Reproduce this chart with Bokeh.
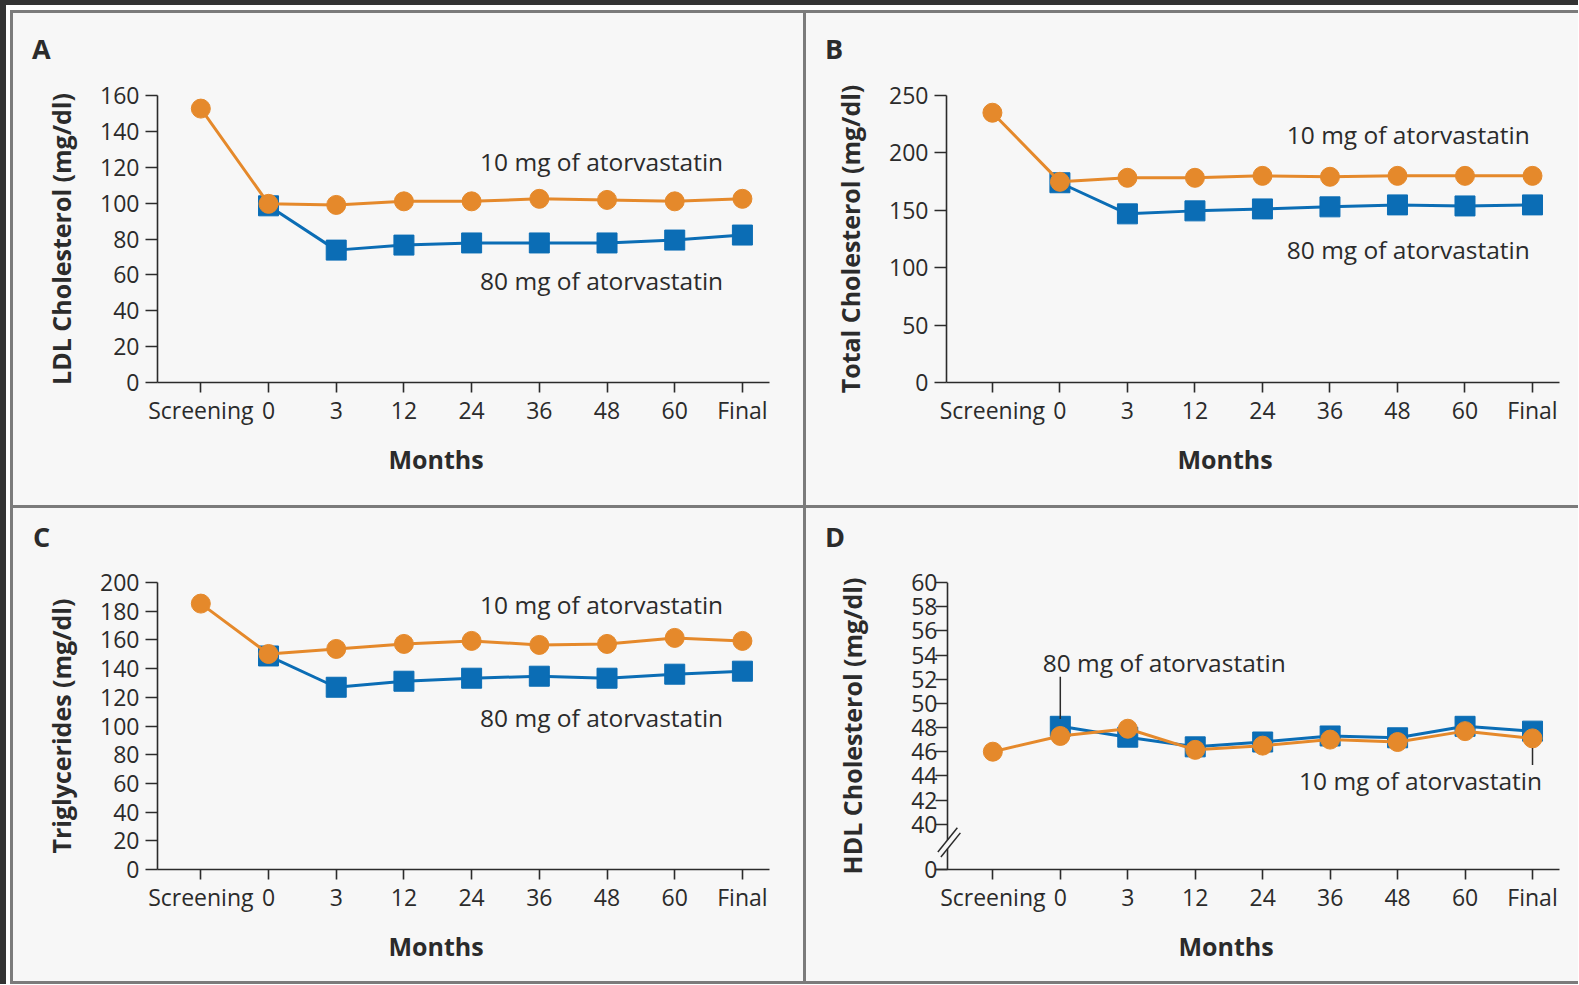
from bokeh.plotting import figure
from bokeh.models import Label, FixedTicker, Title, Div
from bokeh.layouts import row, column
from bokeh.embed import file_html
from bokeh.resources import INLINE

# ---------------- data ----------------
categories = ["Screening", "0", "3", "12", "24", "36", "48", "60", "Final"]

ldl_10 = [152.7, 99.6, 99.0, 101.0, 101.0, 102.4, 101.8, 101.0, 102.4]
ldl_80 = [98.5, 73.8, 76.6, 77.8, 77.8, 77.8, 79.4, 82.2]

tc_10 = [235.0, 174.8, 178.3, 178.3, 180.0, 179.2, 180.0, 180.0, 180.0]
tc_80 = [174.0, 146.9, 149.5, 151.2, 153.0, 154.7, 153.8, 154.7]

tg_10 = [185.3, 150.2, 153.7, 157.2, 159.3, 156.5, 157.2, 161.4, 159.3]
tg_80 = [148.8, 127.0, 131.2, 133.3, 134.7, 133.3, 136.1, 138.2]

hdl_10 = [46.0, 47.3, 47.9, 46.15, 46.5, 47.0, 46.8, 47.7, 47.1]
hdl_80 = [48.1, 47.2, 46.4, 46.8, 47.3, 47.15, 48.1, 47.7]

ldl_ticks = [0, 20, 40, 60, 80, 100, 120, 140, 160]
tc_ticks = [0, 50, 100, 150, 200, 250]
tg_ticks = [0, 20, 40, 60, 80, 100, 120, 140, 160, 180, 200]
hdl_zero = 36.25          # plotted position of the "0" tick below the axis break
hdl_ticks = [hdl_zero, 40, 42, 44, 46, 48, 50, 52, 54, 56, 58, 60]

label_10 = "10 mg of atorvastatin"
label_80 = "80 mg of atorvastatin"

# ---------------- style ----------------
ORANGE = "#E5892B"
BLUE = "#0B6DB5"
BG = "#F7F7F7"
INK = "#2B2B2B"
FONT = "Open Sans"
FH = 287            # plot-frame height
DIV_TOP = 60        # height of the strip holding the panel letter (upper row)
DIV_BOT = 50        # (lower row)

x10 = list(range(len(categories)))
x80 = list(range(1, len(categories)))


def panel(ylabel, v10, v80, y0, y1, yticks, w, h, left, top, fw, xs,
          months_off, notes, yover=None, inner_ticks=False):
    p = figure(width=w, height=h, x_range=(xs, 8.4), y_range=(y0, y1),
               output_backend="svg", toolbar_location=None,
               min_border_left=left, min_border_top=top, min_border_bottom=h - top - FH,
               min_border_right=w - left - fw)
    p.background_fill_alpha = 0
    p.border_fill_alpha = 0
    p.styles = {"background-color": BG}
    p.outline_line_color = None
    p.xgrid.grid_line_color = None
    p.ygrid.grid_line_color = None

    xa = p.xaxis[0]
    xa.ticker = FixedTicker(ticks=x10)
    xa.major_label_overrides = {i: c for i, c in enumerate(categories)}
    ya = p.yaxis[0]
    ya.ticker = FixedTicker(ticks=yticks)
    if yover:
        ya.major_label_overrides = yover
    ya.axis_label = ylabel
    for ax in (xa, ya):
        ax.axis_line_color = INK
        ax.axis_line_width = 1.6
        ax.major_tick_line_color = INK
        ax.major_tick_line_width = 1.6
        ax.major_tick_in = 0
        ax.minor_tick_line_color = None
        ax.major_label_text_font = FONT
        ax.major_label_text_font_size = "23px"
        ax.major_label_text_color = INK
    xa.major_tick_out = 10
    xa.major_label_standoff = 1
    ya.major_tick_out = 12
    ya.major_label_standoff = 6
    ya.axis_label_standoff = 19
    if inner_ticks:
        # the visible axis line is drawn 12 px inside the frame (room for the break marks)
        ya.axis_line_color = None
        ya.major_tick_out = 0
        ya.major_tick_in = 12
        ya.major_label_standoff = -2
        ya.axis_label_standoff = 39
    ya.axis_label_text_font = FONT
    ya.axis_label_text_font_style = "bold"
    ya.axis_label_text_color = INK
    ya.axis_label_text_font_size = "25px"

    p.add_layout(Title(text="Months", align="left", offset=months_off, standoff=22,
                       text_font=FONT, text_font_style="bold", text_font_size="25px",
                       text_color=INK), "below")

    p.line(x80, v80, color=BLUE, line_width=3)
    p.scatter(x80, v80, marker="square", size=20, color=BLUE)
    p.line(x10, v10, color=ORANGE, line_width=3)
    p.scatter(x10, v10, marker="circle", size=19, color=ORANGE)

    for txt, tx, ty in notes:
        p.add_layout(Label(x=tx, y=ty, text=txt, text_font=FONT, text_font_size="24.5px",
                           text_color=INK, text_align="center", text_baseline="middle"))
    return p


def letter_strip(letter, w, h, left, top):
    html = ('<div style="font-family:\'Open Sans\';font-weight:bold;font-size:27px;'
            'line-height:27px;color:%s;margin:%dpx 0 0 %dpx;">%s</div>' % (INK, top, left, letter))
    return Div(text=html, width=w, height=h, margin=0,
               styles={"background-color": BG, "overflow": "hidden"})


TOP_H, BOT_H = 492, 473
A_W, B_W = 790, 772

pA = panel("LDL Cholesterol (mg/dl)", ldl_10, ldl_80, 0, 160, ldl_ticks,
           A_W, TOP_H - DIV_TOP, 144, 82 - DIV_TOP, 612, -0.64, 231,
           [(label_10, 5.92, 123.2), (label_80, 5.92, 57.0)])
pB = panel("Total Cholesterol (mg/dl)", tc_10, tc_80, 0, 250, tc_ticks,
           B_W, TOP_H - DIV_TOP, 140, 82 - DIV_TOP, 613, -0.68, 231,
           [(label_10, 6.16, 216.0), (label_80, 6.16, 116.0)])
pC = panel("Triglycerides (mg/dl)", tg_10, tg_80, 0, 200, tg_ticks,
           A_W, BOT_H - DIV_BOT, 144, 74 - DIV_BOT, 612, -0.64, 231,
           [(label_10, 5.92, 185.0), (label_80, 5.92, 105.9)])
D_XS = -0.85
D_AXIS = D_XS + 12 / (624 / (8.4 - D_XS))
pD = panel("HDL Cholesterol (mg/dl)", hdl_10, hdl_80, hdl_zero, 60, hdl_ticks,
           B_W, BOT_H - DIV_BOT, 129, 74 - DIV_BOT, 624, D_XS, 243,
           [(label_80, 2.54, 53.4), (label_10, 6.34, 43.6)],
           yover={hdl_zero: "0"}, inner_ticks=True)

# broken y axis of panel D: axis line in two pieces plus the two break marks
pD.segment(x0=[D_AXIS, D_AXIS], y0=[hdl_zero, 38.7], x1=[D_AXIS, D_AXIS], y1=[37.96, 60],
           color=INK, line_width=1.6)
pD.segment(x0=[-0.815, -0.770], y0=[37.70, 37.28], x1=[-0.526, -0.481], y1=[39.70, 39.28],
           color=INK, line_width=1.5)
# leader lines in panel D
pD.segment(x0=[1, 8], y0=[52.2, 46.3], x1=[1, 8], y1=[48.7, 44.9], color=INK, line_width=1.5)

colA = column(letter_strip("A", A_W, DIV_TOP, 19, 22), pA, spacing=0)
colB = column(letter_strip("B", B_W, DIV_TOP, 19, 22), pB, spacing=0)
colC = column(letter_strip("C", A_W, DIV_BOT, 20, 15), pC, spacing=0)
colD = column(letter_strip("D", B_W, DIV_BOT, 19, 15), pD, spacing=0)

inner = column(row(colA, colB, spacing=3), row(colC, colD, spacing=3), spacing=3,
               styles={"background-color": "#7B7B7B", "padding": "3px 0px 3px 3px"})
white = column(inner, styles={"background-color": "#FFFFFF", "padding": "5px 0px 0px 4px"})
layout = column(white, styles={"background-color": "#333333", "padding": "5px 0px 0px 6px"})

open("out.html", "w").write(file_html(layout, INLINE))
